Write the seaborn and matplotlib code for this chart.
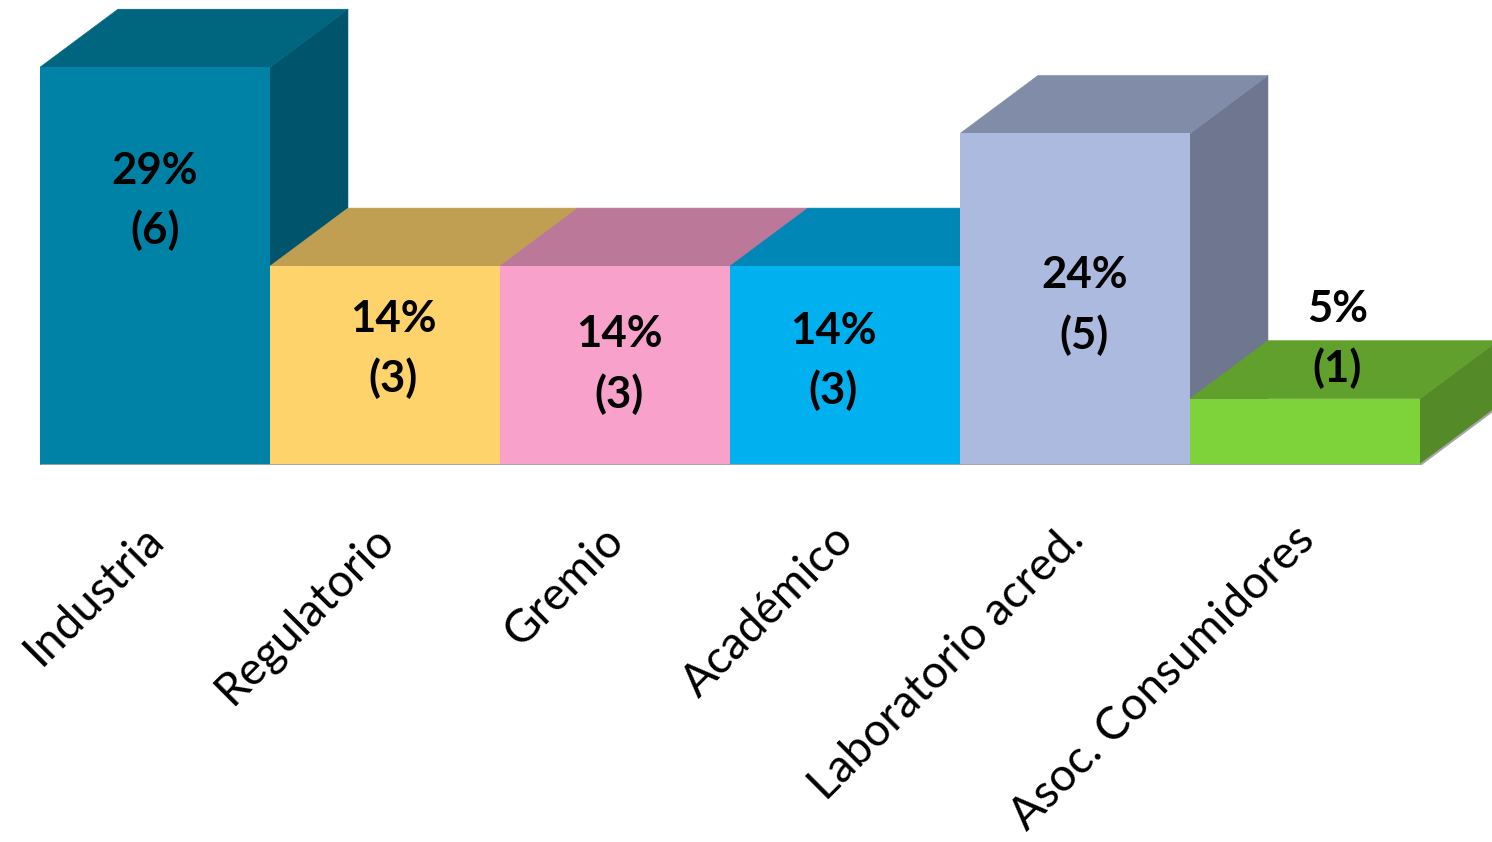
import matplotlib
matplotlib.use("Agg")
import matplotlib.pyplot as plt
from matplotlib.patches import Polygon
import pandas as pd
import seaborn as sns

# chart data
categories = ["Industria", "Regulatorio", "Gremio", "Académico", "Laboratorio acred.", "Asoc. Consumidores"]
counts = [6, 3, 3, 3, 5, 1]
percents = [29, 14, 14, 14, 24, 5]

# colours of the front, top and side faces
front_colors = ["#0082A6", "#FFD36B", "#F7A1CB", "#00B0EF", "#ADBADF", "#7ED33A"]
top_colors = ["#006680", "#C19F52", "#BC7898", "#0087B5", "#818CA8", "#62A02D"]
side_colors = ["#00546C", "#9E8343", "#9A627D", "#006E94", "#6E7690", "#548A27"]

# where the value labels sit (data units)
label_x = [0.0, 1.035, 2.017, 2.95, 4.04, 5.14]
label_y = [3.98, 1.75, 1.52, 1.57, 2.41, 1.90]

# depth of the fake 3D effect, in data units
depth_x = 0.339
depth_y = 0.875

df = pd.DataFrame({"Category": categories, "Count": counts})

sns.set_style("white")
plt.rcParams["font.family"] = ["Lato", "DejaVu Sans"]

fig = plt.figure(figsize=(14.92, 8.42), dpi=100)
ax = fig.add_axes([40 / 1492, 1 - 465 / 842, 1452 / 1492, 465 / 842])

# front faces
sns.barplot(data=df, x="Category", y="Count", hue="Category", palette=front_colors,
            width=1.0, saturation=1, legend=False, ax=ax, linewidth=0)

# draw the top and side faces, left to right so that later bars cover earlier ones
for i, (bar, h) in enumerate(zip(ax.patches, counts)):
    bar.set_zorder(3 + i + 0.5)
    x0 = i - 0.5
    x1 = i + 0.5
    top = Polygon([(x0, h), (x1, h), (x1 + depth_x, h + depth_y), (x0 + depth_x, h + depth_y)],
                  closed=True, facecolor=top_colors[i], edgecolor=top_colors[i], linewidth=0.4,
                  zorder=3 + i, clip_on=False)
    side = Polygon([(x1, 0), (x1, h), (x1 + depth_x, h + depth_y), (x1 + depth_x, depth_y)],
                   closed=True, facecolor=side_colors[i], edgecolor=side_colors[i], linewidth=0.4,
                   zorder=3 + i, clip_on=False)
    ax.add_patch(side)
    ax.add_patch(top)

# value labels
for i in range(len(categories)):
    ax.text(label_x[i], label_y[i], f"{percents[i]}%\n({counts[i]})", ha="center", va="center",
            fontsize=31.5, fontweight="bold", color="black", linespacing=1.55, zorder=20)

# category labels, rotated
for i, name in enumerate(categories):
    ax.text(i - 0.055, -0.8, name, rotation=45, ha="right", va="top", rotation_mode="anchor",
            fontsize=33, color="black", clip_on=False)

# base line
ax.plot([-0.5, 5.5], [0, 0], color="#A6A6A6", linewidth=2, zorder=15, solid_capstyle="butt")
ax.plot([5.5, 5.5 + depth_x], [0, depth_y], color="#A6A6A6", linewidth=1.5, zorder=15)

ax.set_xlim(-0.5, -0.5 + 1452 / 230)
ax.set_ylim(0, 465 / 66.3)
ax.set_xticks([])
ax.set_yticks([])
ax.set_xlabel("")
ax.set_ylabel("")
sns.despine(ax=ax, left=True, bottom=True)

plt.savefig("out.png", dpi=100)
plt.close()
